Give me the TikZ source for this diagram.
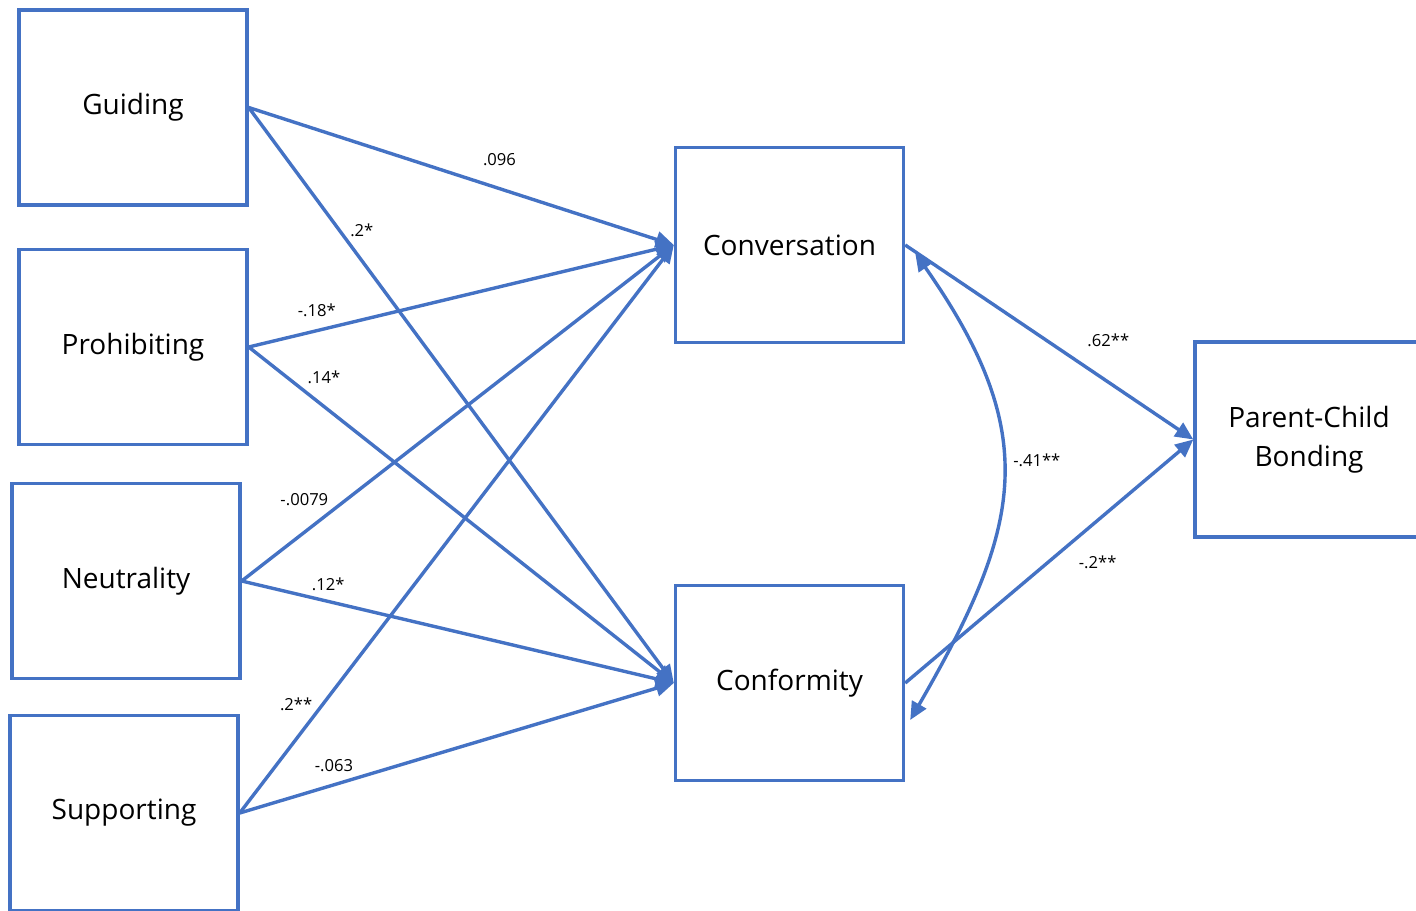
\documentclass[tikz,border=0pt]{standalone}
\usepackage{fontspec}
\setmainfont{Open Sans}
\usetikzlibrary{arrows.meta, calc}
\definecolor{semblue}{HTML}{4472C4}

\begin{document}
\begin{tikzpicture}[
    x=0.5pt, y=-0.5pt,
    >={Triangle[length=9pt, width=8pt]},
    varbox/.style={rectangle, draw=semblue, line width=1.7pt,
                   minimum width=114pt, minimum height=97.5pt,
                   align=center, inner sep=2pt,
                   font=\fontsize{14}{19.5}\selectfont},
    link/.style={->, draw=semblue, line width=1.7pt},
    coef/.style={font=\fontsize{8.3}{10}\selectfont, inner sep=1pt}
]
\useasboundingbox (0,0) rectangle (1416,910);
\clip (0,0) rectangle (1416,910);

% --- parenting styles (left column) ---
\node[varbox] (guid) at (133,107.5) {Guiding};
\node[varbox] (proh) at (133,347) {Prohibiting};
\node[varbox] (neut) at (126,581) {Neutrality};
\node[varbox] (supp) at (124,813) {Supporting};

% --- family communication ---
\node[varbox] (conv) at (789.5,245) {Conversation};
\node[varbox] (conf) at (789.5,683) {Conformity};

% --- outcome ---
\node[varbox] (bond) at (1309,439.5) {Parent-Child\\Bonding};

% --- paths to Conversation ---
\draw[link] (guid.east) -- node[coef, pos=0.59, yshift=14.5pt] {.096} (conv.west);
\draw[link] (proh.east) -- node[coef, pos=0.16, yshift=10pt] {-.18*} (conv.west);
\draw[link] (neut.east) -- node[coef, pos=0.145, yshift=16.4pt] {-.0079} (conv.west);
\draw[link] (supp.east) -- node[coef, pos=0.13, yshift=17.5pt] {.2**} (conv.west);

% --- paths to Conformity ---
\draw[link] (guid.east) -- node[coef, pos=0.266, yshift=15pt] {.2*} (conf.west);
\draw[link] (proh.east) -- node[coef, pos=0.177, yshift=14.7pt] {.14*} (conf.west);
\draw[link] (neut.east) -- node[coef, pos=0.2, yshift=8.7pt] {.12*} (conf.west);
\draw[link] (supp.east) -- node[coef, pos=0.217, yshift=9.7pt] {-.063} (conf.west);

% --- paths to bonding ---
\draw[link] (conv.east) -- node[coef, pos=0.705, yshift=21pt] {.62**} (bond.west);
\draw[link] (conf.east) -- node[coef, pos=0.668, yshift=-21pt] {-.2**} (bond.west);

% --- covariance ---
\draw[link, <->] ([xshift=5pt, yshift=-4pt]conv.east)
    to[out=-55, in=60, looseness=1.22]
    node[coef, pos=0.47, xshift=17pt, yshift=5pt] {-.41**}
    ([xshift=2.5pt, yshift=-18.5pt]conf.east);

\end{tikzpicture}
\end{document}
